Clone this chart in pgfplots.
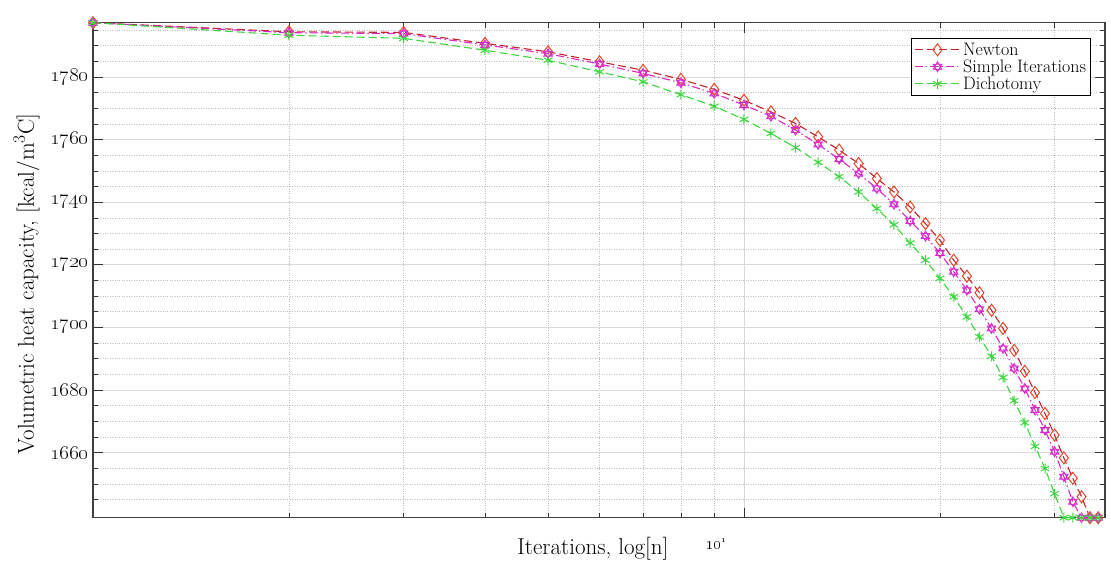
\documentclass[border=0pt]{standalone}
\usepackage{pgfplots}
\pgfplotsset{compat=1.18}
\usetikzlibrary{calc}
\definecolor{newtonline}{RGB}{195,35,45}
\definecolor{newtonmark}{RGB}{230,70,40}
\definecolor{simpline}{RGB}{215,40,200}
\definecolor{simpfill}{RGB}{240,120,235}
\definecolor{dichline}{RGB}{60,215,60}
\pgfdeclareplotmark{hexagram}{%
  \pgfpathmoveto{\pgfqpoint{0pt}{\pgfplotmarksize}}%
  \pgfpathlineto{\pgfqpoint{0.866\pgfplotmarksize}{-0.5\pgfplotmarksize}}%
  \pgfpathlineto{\pgfqpoint{-0.866\pgfplotmarksize}{-0.5\pgfplotmarksize}}%
  \pgfpathclose
  \pgfpathmoveto{\pgfqpoint{0pt}{-\pgfplotmarksize}}%
  \pgfpathlineto{\pgfqpoint{0.866\pgfplotmarksize}{0.5\pgfplotmarksize}}%
  \pgfpathlineto{\pgfqpoint{-0.866\pgfplotmarksize}{0.5\pgfplotmarksize}}%
  \pgfpathclose
  \pgfusepathqfillstroke
}
\begin{document}
\begin{tikzpicture}
\begin{axis}[
  scale only axis, width=1012pt, height=495pt,
  xmode=log, xmin=1, xmax=35.86, ymin=1639.2, ymax=1797.4,
  xtick={10},
  xticklabels={\oldstylenums{10}\raisebox{1.0ex}{\fontsize{10}{10}\selectfont\oldstylenums{1}}},
  minor xtick={2,3,4,5,6,7,8,9,20,30},
  ytick={1660,1680,1700,1720,1740,1760,1780},
  yticklabels={\oldstylenums{1660},\oldstylenums{1680},\oldstylenums{1700},\oldstylenums{1720},\oldstylenums{1740},\oldstylenums{1760},\oldstylenums{1780}},
  minor ytick={1645,1650,1655,1665,1670,1675,1685,1690,1695,1705,1710,1715,1725,1730,1735,1745,1750,1755,1765,1770,1775,1785,1790,1795},
  grid=both,
  major grid style={gray!30, line width=0.8pt},
  minor grid style={gray!50, dotted, line width=0.8pt},
  tick align=inside, tick pos=both,
  major tick length=10pt, minor tick length=5pt,
  every tick/.style={black!80, line width=0.8pt},
  axis line style={black!75, line width=1.2pt},
  clip=false,
  yticklabel style={font=\fontsize{21}{24}\selectfont, xshift=-1pt},
  xticklabel style={font=\fontsize{17}{19}\selectfont, anchor=center, xshift=-28pt, yshift=-26pt},
  xlabel={Iterations, log[n]},
  ylabel={Volumetric heat capacity, [kcal/m$^3$C]},
  xlabel style={font=\fontsize{23}{26}\selectfont, at={(axis description cs:0.494,0)}, anchor=center, yshift=-31pt},
  ylabel style={font=\fontsize{23}{26}\selectfont, at={(axis description cs:-0.0655,0.472)}, anchor=center},
  legend style={at={(1,1)}, anchor=north east, xshift=-14pt, yshift=-15.3pt, draw=black, line width=0.8pt,
    font=\fontsize{18}{19}\selectfont, row sep=-1pt, inner sep=2.5pt, cells={anchor=west}},
  legend image code/.code={\draw[mark repeat=2,mark phase=2,#1] plot coordinates {(0pt,0pt) (23pt,0pt) (46pt,0pt)};},
]
\addplot[color=newtonline, line width=1.1pt, dash pattern=on 8pt off 4pt, mark=diamond, mark size=6pt,
  mark options={solid, draw=newtonmark, line width=1pt}] coordinates {
(1,1797.4) (2,1794.5) (3,1794.3) (4,1790.8) (5,1788.1) (6,1784.9) (7,1782.2) (8,1779.3) (9,1776.1) (10,1772.6)
(11,1768.9) (12,1765.2) (13,1760.9) (14,1756.7) (15,1752.4) (16,1747.6) (17,1743.3) (18,1738.5) (19,1733.2) (20,1727.9)
(21,1721.5) (22,1716.4) (23,1711.1) (24,1705.5) (25,1699.7) (26,1692.7) (27,1686.0) (28,1679.2) (29,1672.5) (30,1665.6)
(31,1658.3) (32,1651.8) (33,1645.9) (34,1639.2) (35,1639.2)};
\addlegendentry{Newton}
\addplot[color=simpline, line width=1.1pt, dash pattern=on 8pt off 3pt on 1.5pt off 3pt, mark=hexagram, mark size=5pt,
  mark options={solid, draw=simpline, fill=simpfill, line width=0.8pt}] coordinates {
(1,1797.4) (2,1794.2) (3,1793.9) (4,1790.3) (5,1787.5) (6,1784.2) (7,1781.2) (8,1778.2) (9,1774.8) (10,1771.1)
(11,1767.5) (12,1763.1) (13,1758.5) (14,1753.8) (15,1749.2) (16,1744.4) (17,1739.4) (18,1734.0) (19,1729.2) (20,1723.8)
(21,1717.8) (22,1711.9) (23,1705.8) (24,1699.7) (25,1693.3) (26,1686.9) (27,1680.5) (28,1673.6) (29,1667.2) (30,1660.3)
(31,1652.3) (32,1644.3) (33,1639.2) (34,1639.2) (35,1639.2)};
\addlegendentry{Simple Iterations}
\addplot[color=dichline, line width=1.1pt, dash pattern=on 8pt off 4pt, mark=asterisk, mark size=5pt,
  mark options={solid, line width=1pt}] coordinates {
(1,1797.4) (2,1793.4) (3,1792.4) (4,1788.6) (5,1785.4) (6,1781.7) (7,1778.5) (8,1774.4) (9,1770.7) (10,1766.5)
(11,1762.0) (12,1757.5) (13,1752.8) (14,1748.2) (15,1743.3) (16,1738.0) (17,1732.8) (18,1727.0) (19,1721.5) (20,1715.7)
(21,1709.8) (22,1703.4) (23,1697.0) (24,1690.8) (25,1684.0) (26,1676.6) (27,1669.6) (28,1662.0) (29,1654.9) (30,1646.9)
(31,1639.2) (32,1639.2) (33,1639.2) (34,1639.2) (35,1639.2)};
\addlegendentry{Dichotomy}
\end{axis}
\pgfresetboundingbox
\useasboundingbox ($(current axis.south west)+(-93pt,-46.3pt)$) rectangle ($(current axis.north east)+(6pt,22.7pt)$);
\end{tikzpicture}
\end{document}
